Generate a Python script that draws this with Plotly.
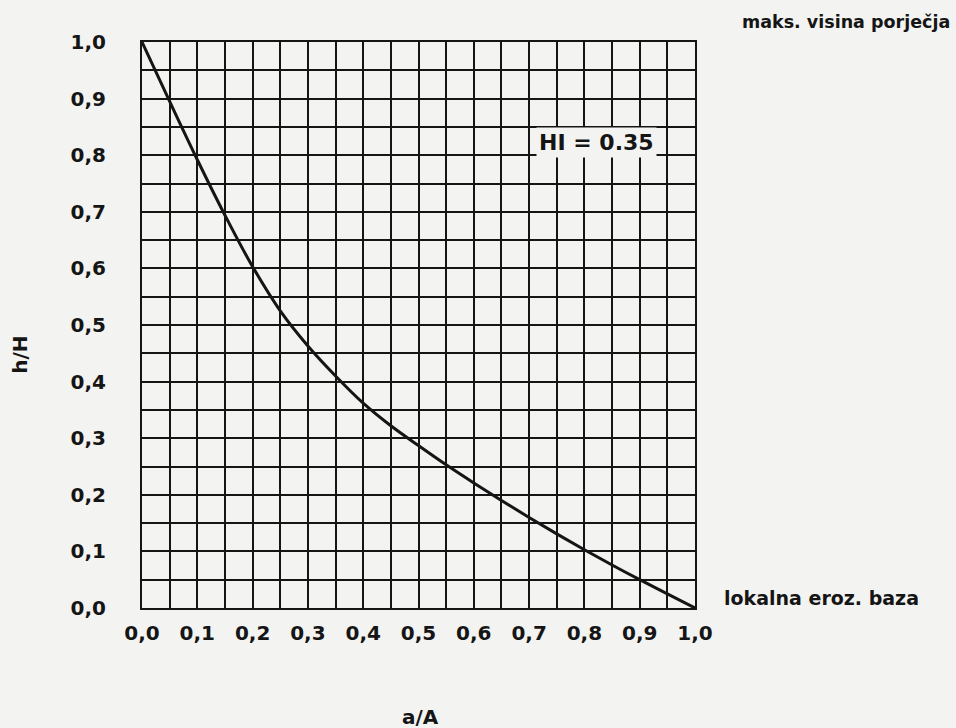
import plotly.graph_objects as go

# relative area a/A and relative height h/H of the hypsometric curve
a_over_A = [0.0, 0.05, 0.10, 0.15, 0.20, 0.25, 0.30, 0.35, 0.40, 0.45, 0.50,
            0.55, 0.60, 0.65, 0.70, 0.75, 0.80, 0.85, 0.90, 0.95, 1.0]
h_over_H = [1.0, 0.895, 0.792, 0.694, 0.603, 0.525, 0.463, 0.41, 0.362, 0.322, 0.287,
            0.253, 0.221, 0.190, 0.160, 0.131, 0.103, 0.076, 0.050, 0.025, 0.0]

tick_values = [0.0, 0.1, 0.2, 0.3, 0.4, 0.5, 0.6, 0.7, 0.8, 0.9, 1.0]
tick_labels = ["0,0", "0,1", "0,2", "0,3", "0,4", "0,5", "0,6", "0,7", "0,8", "0,9", "1,0"]

hi_label = "HI = 0.35"
top_label = "maks. visina porječja"
bottom_label = "lokalna eroz. baza"
x_title = "a/A"
y_title = "h/H"

PAPER = "#f3f3f2"
INK = "#151515"
FONT = "DejaVu Sans"

fig = go.Figure()
fig.add_trace(go.Scatter(
    x=a_over_A, y=h_over_H, mode="lines",
    line=dict(color=INK, width=3, shape="spline", smoothing=1.0),
    hoverinfo="skip", showlegend=False,
))

axis_common = dict(
    range=[0, 1],
    tickvals=tick_values,
    ticktext=tick_labels,
    tickfont=dict(family=FONT, size=20, color=INK, weight="bold"),
    showgrid=True, gridcolor=INK, gridwidth=2,
    minor=dict(dtick=0.05, showgrid=True, gridcolor=INK, gridwidth=2),
    zeroline=False,
    showline=True, linecolor=INK, linewidth=2, mirror=True,
    ticks="",
    fixedrange=True,
)

fig.update_xaxes(**axis_common, ticklabelstandoff=6)
fig.update_yaxes(**axis_common, ticklabelstandoff=30)

ann_font = dict(family=FONT, color=INK, weight="bold")
fig.add_annotation(text=top_label, xref="paper", yref="paper", x=1.081, y=1.035,
                   xanchor="left", yanchor="middle", showarrow=False,
                   font=dict(size=17.5, **ann_font))
fig.add_annotation(text=bottom_label, xref="paper", yref="paper", x=1.049, y=0.018,
                   xanchor="left", yanchor="middle", showarrow=False,
                   font=dict(size=19, **ann_font))
fig.add_annotation(text=hi_label, xref="paper", yref="paper", x=0.821, y=0.822,
                   xanchor="center", yanchor="middle", showarrow=False,
                   bgcolor=PAPER, borderpad=2,
                   font=dict(size=22, **ann_font))
fig.add_annotation(text=y_title, xref="paper", yref="paper", x=-0.221, y=0.447,
                   xanchor="center", yanchor="middle", showarrow=False, textangle=-90,
                   font=dict(size=20, **ann_font))
fig.add_annotation(text=x_title, xref="paper", yref="paper", x=0.503, y=-0.192,
                   xanchor="center", yanchor="middle", showarrow=False,
                   font=dict(size=20, **ann_font))

fig.update_layout(
    width=956, height=728,
    margin=dict(l=142, r=261, t=42, b=120),
    paper_bgcolor=PAPER, plot_bgcolor=PAPER,
    showlegend=False,
)

fig.write_html(
    "out.html",
    config={"displayModeBar": False},
    post_script="document.body.style.margin='0';document.body.style.background='#f3f3f2';document.body.style.overflow='hidden';",
)
